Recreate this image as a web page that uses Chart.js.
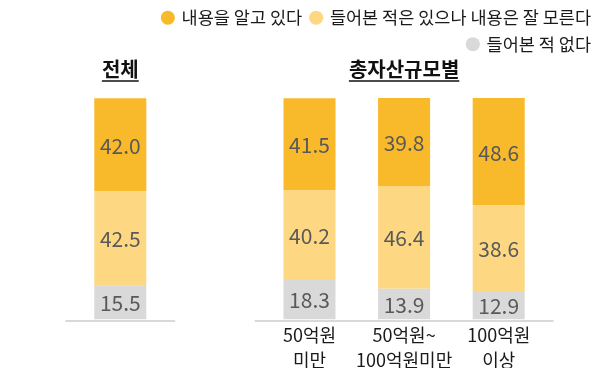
<!DOCTYPE html>
<html>
<head>
<meta charset="utf-8">
<script src="https://cdn.jsdelivr.net/npm/chart.js@4.4.1/dist/chart.umd.min.js"></script>
<style>
  html, body { margin: 0; padding: 0; background: #fff; }
  #wrap { width: 610px; height: 383px; position: relative; }
</style>
</head>
<body>
<div id="wrap"><canvas id="chart"></canvas></div>
<script>
// categories (index 1 is an empty slot between the two groups)
const categories = ['', '', ['50억원', '미만'], ['50억원~', '100억원미만'], ['100억원', '이상']];
const seriesNames = ['들어본 적 없다', '들어본 적은 있으나 내용은 잘 모른다', '내용을 알고 있다'];
const neverHeard = [15.5, null, 18.3, 13.9, 12.9];
const heardOnly  = [42.5, null, 40.2, 46.4, 38.6];
const knowIt     = [42.0, null, 41.5, 39.8, 48.6];
const groupTitles = ['전체', '총자산규모별'];
const groupRanges = [[0, 0], [2, 4]];

const colors = ['#D9D9D9', '#FDD782', '#F8B92B'];
const FONT = '"Noto Sans CJK KR", "Noto Sans", sans-serif';

// value labels in the middle of each segment
const valueLabels = {
  id: 'valueLabels',
  afterDatasetsDraw(chart) {
    const ctx = chart.ctx;
    ctx.save();
    ctx.font = '21px ' + FONT;
    ctx.fillStyle = '#595959';
    ctx.textAlign = 'center';
    ctx.textBaseline = 'middle';
    chart.data.datasets.forEach((ds, i) => {
      chart.getDatasetMeta(i).data.forEach((bar, j) => {
        const v = ds.data[j];
        if (v == null) return;
        ctx.fillText(v.toFixed(1), bar.x, (bar.y + bar.base) / 2 + 1);
      });
    });
    ctx.restore();
  }
};

// group titles on top and baseline pieces under each group
const groupDecor = {
  id: 'groupDecor',
  afterDraw(chart) {
    const ctx = chart.ctx;
    const x = chart.scales.x;
    const area = chart.chartArea;
    const step = x.getPixelForValue(1) - x.getPixelForValue(0);
    ctx.save();
    groupRanges.forEach((r, g) => {
      const a = x.getPixelForValue(r[0]);
      const b = x.getPixelForValue(r[1]);
      // baseline
      ctx.strokeStyle = '#D9D9D9';
      ctx.lineWidth = 2;
      ctx.beginPath();
      ctx.moveTo(a - step * 0.58, area.bottom + 1.5);
      ctx.lineTo(b + step * 0.58, area.bottom + 1.5);
      ctx.stroke();
      // title
      const cx = (a + b) / 2;
      const ty = area.top + 6;
      ctx.font = 'bold 20px ' + FONT;
      ctx.fillStyle = '#111';
      ctx.textAlign = 'center';
      ctx.textBaseline = 'middle';
      ctx.fillText(groupTitles[g], cx, ty);
      const w = ctx.measureText(groupTitles[g]).width;
      ctx.strokeStyle = '#111';
      ctx.lineWidth = 1.5;
      ctx.beginPath();
      ctx.moveTo(cx - w / 2, ty + 12);
      ctx.lineTo(cx + w / 2, ty + 12);
      ctx.stroke();
    });
    ctx.restore();
  }
};

new Chart(document.getElementById('chart'), {
  type: 'bar',
  data: {
    labels: categories,
    datasets: [
      { label: seriesNames[0], data: neverHeard, backgroundColor: colors[0] },
      { label: seriesNames[1], data: heardOnly,  backgroundColor: colors[1] },
      { label: seriesNames[2], data: knowIt,     backgroundColor: colors[2] }
    ]
  },
  options: {
    responsive: true,
    maintainAspectRatio: false,
    animation: false,
    datasets: { bar: { categoryPercentage: 1, barPercentage: 0.55, borderWidth: 0 } },
    layout: { padding: { left: 73, right: 10, bottom: 15 } },
    plugins: {
      tooltip: { enabled: false },
      legend: {
        position: 'top',
        align: 'end',
        reverse: true,
        labels: {
          usePointStyle: true,
          pointStyle: 'circle',
          boxWidth: 10,
          boxHeight: 10,
          padding: 9,
          color: '#1a1a1a',
          font: { size: 17.5, family: FONT }
        }
      }
    },
    scales: {
      x: {
        stacked: true,
        grid: { display: false },
        border: { display: false },
        ticks: {
          autoSkip: false,
          maxRotation: 0,
          padding: -5,
          color: '#1a1a1a',
          font: { size: 18, family: FONT, lineHeight: 1.4 }
        }
      },
      y: {
        stacked: true,
        display: false,
        min: 0,
        max: 115.9
      },
      yR: {
        position: 'right',
        display: true,
        grid: { display: false },
        border: { display: false },
        ticks: { display: false },
        afterFit(s) { s.width = 54; }
      }
    }
  },
  plugins: [valueLabels, groupDecor]
});
</script>
</body>
</html>
